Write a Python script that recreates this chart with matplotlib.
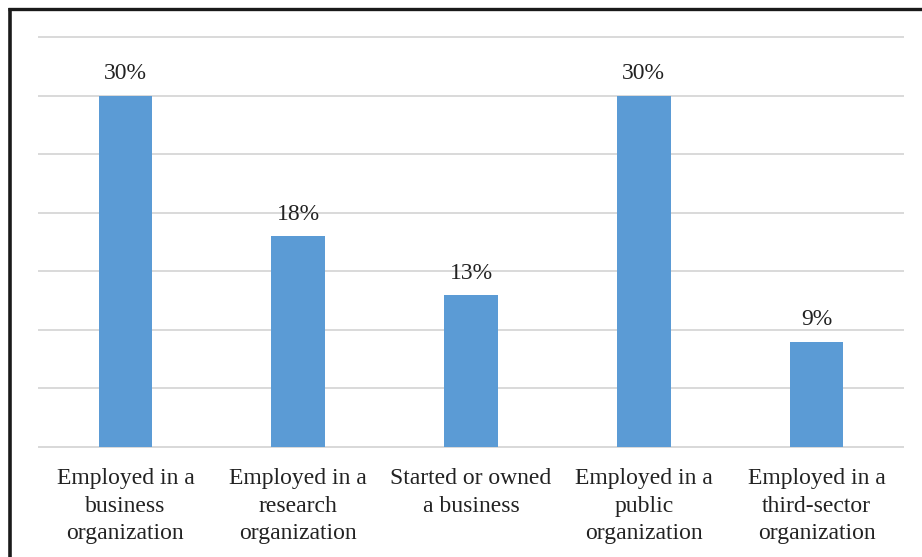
import matplotlib.pyplot as plt
from matplotlib.lines import Line2D

categories = ["Employed in a\nbusiness\norganization",
              "Employed in a\nresearch\norganization",
              "Started or owned\na business",
              "Employed in a\npublic\norganization",
              "Employed in a\nthird-sector\norganization"]
values = [30, 18, 13, 30, 9]
labels = ["30%", "18%", "13%", "30%", "9%"]

plt.rcParams['font.family'] = ['Liberation Serif', 'DejaVu Serif']

W, H = 922, 557
fig = plt.figure(figsize=(W / 100, H / 100), dpi=100)
ax = fig.add_axes([39 / W, 1 - 447 / H, 864 / W, 410 / H])

x = range(len(values))
ax.bar(x, values, width=0.31, color='#5B9BD5', zorder=3)
for i, (v, lab) in enumerate(zip(values, labels)):
    ax.annotate(lab, (i, v), xytext=(0, 8), textcoords='offset points',
                ha='center', va='bottom', fontsize=17, color='#222222')

ax.set_xlim(-0.5, 4.5)
ax.set_ylim(0, 35)
ax.set_yticks(range(0, 36, 5))
ax.yaxis.grid(True, color='#D9D9D9', linewidth=1.4, zorder=0)
for gl in ax.get_ygridlines():
    gl.set_clip_on(False)
ax.tick_params(axis='y', left=False, labelleft=False)
ax.tick_params(axis='x', length=0, pad=15)
ax.set_xticks(list(x))
ax.set_xticklabels(categories, fontsize=17, color='#222222', linespacing=1.42)
for s in ['top', 'right', 'left']:
    ax.spines[s].set_visible(False)
ax.spines['bottom'].set_color('#D9D9D9')
ax.spines['bottom'].set_linewidth(1.4)

# outer frame (left and top edges)
fig.add_artist(Line2D([9.5 / W, 9.5 / W], [0, 1 - 8 / H], transform=fig.transFigure,
                      color='#1a1a1a', linewidth=2.6, solid_capstyle='butt'))
fig.add_artist(Line2D([8 / W, 1], [1 - 8.5 / H, 1 - 8.5 / H], transform=fig.transFigure,
                      color='#1a1a1a', linewidth=2.4, solid_capstyle='butt'))

fig.savefig('out.png', dpi=100)
